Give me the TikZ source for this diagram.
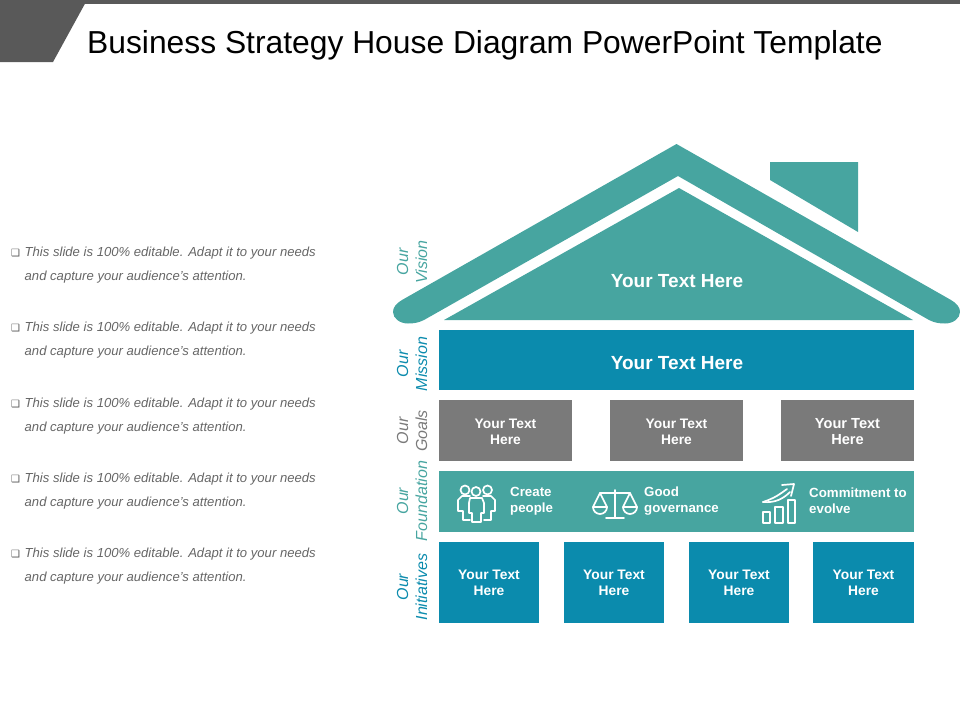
\documentclass[tikz,border=0pt]{standalone}
\usepackage{fontspec}
\setmainfont{Liberation Sans}
\newfontfamily\symfont{DejaVu Sans}
\definecolor{teal1}{HTML}{47A5A0}
\definecolor{blue1}{HTML}{0B8BAD}
\definecolor{gray1}{HTML}{7A7A7A}
\definecolor{dark1}{HTML}{595959}
\definecolor{body1}{HTML}{666666}
\tikzset{
  x=1pt,y=1pt,
  panel/.style={inner sep=0pt,outer sep=0pt,align=center,text=white,font=\fontsize{13.8}{16}\selectfont\bfseries,minimum height=#1},
  bigpanel/.style={inner sep=0pt,outer sep=0pt,align=center,text=white,font=\fontsize{19}{22}\selectfont\bfseries},
  side/.style={rotate=90,align=center,inner sep=0pt,font=\fontsize{16}{19}\selectfont\itshape},
  bullet/.style={anchor=west,inner sep=0pt,text=body1,font=\fontsize{13.1}{15}\selectfont\itshape},
  tick/.style={anchor=west,inner sep=0pt,text=dark1,font=\symfont\fontsize{10}{12}\selectfont},
  lbl/.style={anchor=west,align=left,inner sep=0pt,text=white,font=\fontsize{13.3}{16}\selectfont\bfseries},
  icon/.style={draw=white,line width=1.7pt,line join=round,line cap=round,fill=none}
}
\begin{document}
\begin{tikzpicture}
\useasboundingbox (0,0) rectangle (960,-720);
% header
\fill[dark1] (0,0) rectangle (960,-4);
\fill[dark1] (0,0) -- (87,0) -- (53,-62) -- (0,-62) -- cycle;
\node[anchor=base west,inner sep=0pt,text=black,font=\fontsize{31.8}{36}\selectfont] (title) at (87,-53) {Business Strategy House Diagram PowerPoint Template};
% roof
\fill[teal1] (676.5,-144) -- (402,-300) .. controls (396,-303.5) and (393,-307.5) .. (393,-312)
  .. controls (393,-318.5) and (400,-323.5) .. (408,-323.5) .. controls (413,-323.5) and (418,-323) .. (424,-320)
  -- (678,-176) -- (929,-320) .. controls (935,-323) and (940,-323.5) .. (945,-323.5)
  .. controls (953,-323.5) and (960,-318.5) .. (960,-312) .. controls (960,-307.5) and (957,-303.5) .. (951,-300) -- cycle;
\fill[teal1] (444,-320) -- (679,-188) -- (913,-320) -- cycle;
\fill[teal1] (770,-162) -- (858,-162) -- (858,-232) -- (770,-180) -- cycle;
\node[bigpanel] (vision) at (677,-281) {Your Text Here};
% mission
\fill[blue1] (439,-330) rectangle (914,-390);
\node[bigpanel] (mission) at (677,-363) {Your Text Here};
% goals
\foreach \a/\b/\n/\s in {439/572/g1/13.8,610/743/g2/13.8,781/914/g3/14.6}{
  \fill[gray1] (\a,-400) rectangle (\b,-461);
  \node[panel=30pt,font=\fontsize{\s}{16}\selectfont\bfseries] (\n) at ({(\a+\b)/2},-431.5) {Your Text\\Here};
}
% foundation
\fill[teal1] (439,-471) rectangle (914,-532);
\node[lbl] (f1) at (510,-501) {Create\\people};
\node[lbl] (f2) at (644,-501) {Good\\governance};
\node[lbl] (f3) at (809,-501) {Commitment to\\evolve};
% people icon
\begin{scope}[icon]
\draw (465,-490) circle (4.5);
\draw (476,-491.5) circle (4.5);
\draw (487.5,-490) circle (4.5);
\draw (470,-496) -- (462,-496) -- (458,-500) -- (458,-511) -- (463,-511) -- (463,-520) -- (470,-520);
\draw (483,-496) -- (491,-496) -- (495,-500) -- (495,-511) -- (491,-511) -- (491,-520) -- (484,-520);
\draw (470,-498) -- (482,-498) -- (484,-503) -- (484,-513) -- (481,-513) -- (481,-522) -- (472,-522) -- (472,-513) -- (469,-513) -- (469,-503) -- cycle;
% scales icon
\draw (615,-490) -- (615,-517);
\draw (606,-518) -- (624,-518);
\draw (600,-493) -- (630,-493);
\draw (600,-493) -- (593,-507) -- (607,-507) -- cycle;
\draw (630,-493) -- (623,-507) -- (637,-507) -- cycle;
\draw (593,-507) arc[start angle=180,end angle=360,radius=7];
\draw (623,-507) arc[start angle=180,end angle=360,radius=7];
% growth icon
\draw (763,-512) rectangle (770,-523);
\draw (775,-507) rectangle (783,-523);
\draw (788,-500) rectangle (795,-523);
\draw (763,-502) .. controls (775,-498) and (780,-494) .. (787,-489);
\draw (763,-502) .. controls (775,-503) and (783,-499) .. (790,-492);
\draw (782,-485) -- (794,-484) -- (791,-496);
\end{scope}
% initiatives
\foreach \a/\b/\n in {439/539/i1,564/664/i2,689/789/i3,813/914/i4}{
  \fill[blue1] (\a,-542) rectangle (\b,-623);
  \node[panel=30pt] (\n) at ({(\a+\b)/2},-582.5) {Your Text\\Here};
}
% side labels
\node[side,text=teal1] (s1) at (412,-262) {Our\\Vision};
\node[side,text=blue1] (s2) at (412,-364) {Our\\Mission};
\node[side,text=gray1] (s3) at (412,-431) {Our\\Goals};
\node[side,text=teal1] (s4) at (412,-501) {Our\\Foundation};
\node[side,text=blue1] (s5) at (412,-587) {Our\\Initiatives};
% bullet text
\foreach \y/\n in {253/a,328/b,404/c,479/d,554/e}{
  \node[tick] (t\n) at (11,-\y) {❑};
  \node[bullet] (u\n) at (24.5,-\y) {This slide is 100\% editable. Adapt it to your needs};
  \node[bullet] (v\n) at (24.5,-\y-24) {and capture your audience's attention.};
}
\end{tikzpicture}
\end{document}
